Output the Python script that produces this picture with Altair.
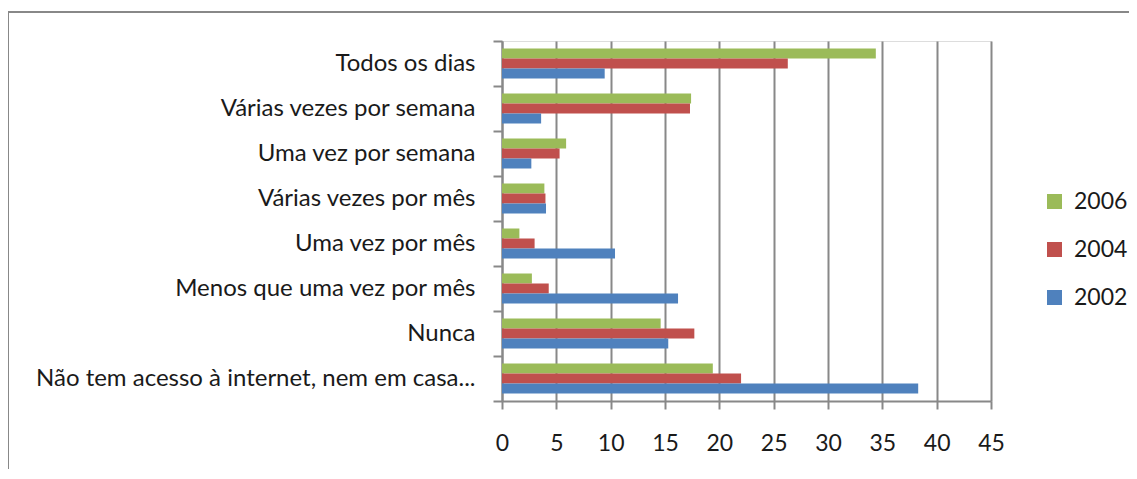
import altair as alt
import pandas as pd

categories = [
    "Todos os dias",
    "Várias vezes por semana",
    "Uma vez por semana",
    "Várias vezes por mês",
    "Uma vez por mês",
    "Menos que uma vez por mês",
    "Nunca",
    "Não tem acesso à internet, nem em casa...",
]
years = ["2006", "2004", "2002"]
v2006 = [34.4, 17.4, 5.9, 3.9, 1.6, 2.75, 14.6, 19.4]
v2004 = [26.3, 17.3, 5.3, 4.0, 3.0, 4.3, 17.7, 22.0]
v2002 = [9.45, 3.6, 2.7, 4.05, 10.4, 16.2, 15.3, 38.3]
colors = ["#9BBB59", "#C0504D", "#4F81BD"]
x_ticks = [0, 5, 10, 15, 20, 25, 30, 35, 40, 45]

rows = []
for yr, vals in zip(years, [v2006, v2004, v2002]):
    for c, v in zip(categories, vals):
        rows.append({"category": c, "year": yr, "value": v})
df = pd.DataFrame(rows)

GRAY = "#888888"
FONT = "Lato"

bars = alt.Chart(df).mark_bar(size=10).encode(
    x=alt.X(
        "value:Q",
        scale=alt.Scale(domain=[0, 45], nice=False, zero=True),
        axis=alt.Axis(
            title=None, values=x_ticks, grid=True, gridColor=GRAY, gridWidth=2,
            domainColor=GRAY, domainWidth=2, tickColor=GRAY, tickWidth=2, tickSize=8,
            labelFontSize=23, labelColor="#1a1a1a", labelPadding=23, labelFont=FONT,
            labelFlush=False,
        ),
    ),
    y=alt.Y(
        "category:N", sort=categories,
        scale=alt.Scale(paddingInner=0, paddingOuter=0),
        axis=alt.Axis(
            title=None, tickBand="extent", domainColor=GRAY, domainWidth=2,
            tickColor=GRAY, tickWidth=2, tickSize=9, labelPadding=18,
            labelFontSize=24, labelColor="#1a1a1a", labelLimit=700, labelFont=FONT,
        ),
    ),
    yOffset=alt.YOffset(
        "year:N", sort=years, scale=alt.Scale(paddingInner=0, paddingOuter=0.75)
    ),
    color=alt.Color(
        "year:N",
        scale=alt.Scale(domain=years, range=colors),
        legend=alt.Legend(
            title=None, orient="none", legendX=541, legendY=149,
            symbolType="square", symbolSize=225, symbolStrokeWidth=0,
            labelFontSize=23, labelFont=FONT, labelColor="#1a1a1a",
            rowPadding=24, labelOffset=8,
        ),
    ),
)

frame_df = pd.DataFrame({"k": [0]})
frame_top = alt.Chart(frame_df).mark_rule(color=GRAY, strokeWidth=2).encode(
    x=alt.value(-494), x2=alt.value(800), y=alt.value(-29)
)
frame_left = alt.Chart(frame_df).mark_rule(color=GRAY, strokeWidth=2).encode(
    x=alt.value(-494), y=alt.value(-30), y2=alt.value(600)
)

chart = alt.layer(bars, frame_top, frame_left).properties(
    width=489,
    height=360,
    autosize=alt.AutoSizeParams(type="none"),
    padding={"left": 494, "top": 33, "right": 138, "bottom": 68},
).configure_view(stroke=None).configure(font=FONT)

chart.save("out.html", embed_options={"renderer": "svg", "actions": False})
